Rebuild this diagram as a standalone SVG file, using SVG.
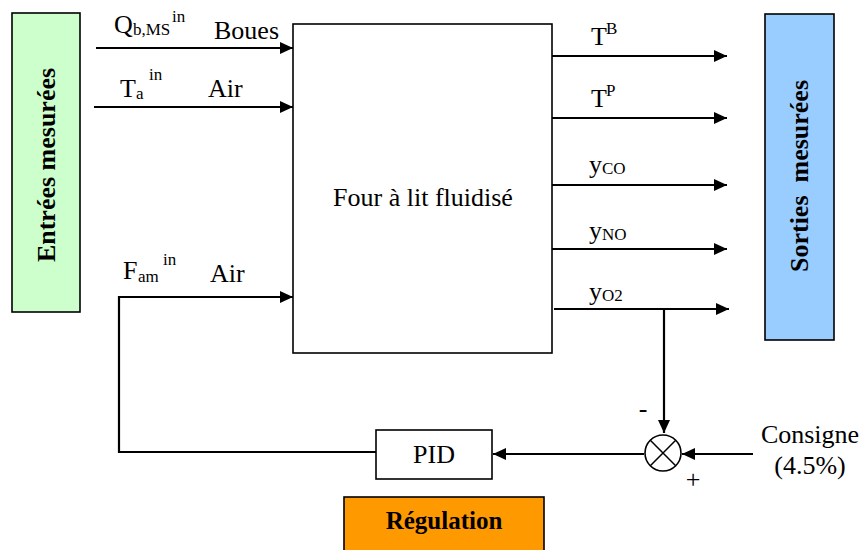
<svg xmlns="http://www.w3.org/2000/svg" width="861" height="550" viewBox="0 0 861 550">
<style>
text{font-family:"Liberation Serif","Times New Roman","DejaVu Serif",serif;fill:#000}
.t{font-size:26px}
.s{font-size:17px}
.b{font-size:26px;font-weight:bold}
.box{stroke:#000;stroke-width:1.6}
.ln{fill:none;stroke:#000;stroke-width:2.2}
</style>
<defs>
<marker id="ah" markerUnits="userSpaceOnUse" markerWidth="13" markerHeight="12" refX="13" refY="6" orient="auto">
<path d="M0,0 L13,6 L0,12 z" fill="#000"/>
</marker>
</defs>
<rect width="861" height="550" fill="#fff"/>
<g font-family="Liberation Serif, Times New Roman, serif">

<g id="entrees">
<rect class="box" x="12" y="13" width="68" height="299" fill="#CCFFCC"/>
<text class="b" transform="translate(55,165) rotate(-90)" text-anchor="middle">Entrées mesurées</text>
</g>

<g id="sorties">
<rect class="box" x="765" y="14" width="69" height="326" fill="#99CCFF"/>
<text class="b" transform="translate(808,176) rotate(-90)" text-anchor="middle" xml:space="preserve">Sorties  mesurées</text>
</g>

<g id="four">
<rect class="box" x="293" y="24" width="259" height="329" fill="#fff"/>
<text class="t" x="423" y="206" text-anchor="middle">Four à lit fluidisé</text>
</g>

<g id="pid">
<rect class="box" x="376" y="430" width="116" height="49" fill="#fff"/>
<text class="t" x="434" y="463" text-anchor="middle">PID</text>
</g>

<g id="sommateur">
<circle class="box" cx="663" cy="453" r="18" fill="#fff"/>
<path d="M650.3,440.3 L675.7,465.7 M675.7,440.3 L650.3,465.7" stroke="#000" stroke-width="1.5"/>
<text class="t" x="643" y="417" text-anchor="middle">-</text>
<text class="t" x="693" y="488" text-anchor="middle">+</text>
</g>

<g id="regulation">
<rect class="box" x="344" y="497" width="200" height="60" fill="#FF9900"/>
<text class="b" x="444" y="529" text-anchor="middle" style="font-size:25px">Régulation</text>
</g>

<g id="consigne">
<text class="t" x="810" y="443" text-anchor="middle">Consigne</text>
<text class="t" x="810" y="474" text-anchor="middle">(4.5%)</text>
</g>

<g id="labels">
<text class="t" x="114" y="33">Q</text><text class="s" x="133" y="35">b,MS</text><text class="s" x="172" y="22">in</text>
<text class="t" x="214" y="39">Boues</text>
<text class="t" x="120" y="97">T</text><text class="s" x="136" y="99">a</text><text class="s" x="149" y="80">in</text>
<text class="t" x="208" y="97">Air</text>
<text class="t" x="123" y="279">F</text><text class="s" x="138" y="282">am</text><text class="s" x="163" y="265">in</text>
<text class="t" x="210" y="282">Air</text>
<text class="t" x="591" y="45">T</text><text class="s" x="606" y="34">B</text>
<text class="t" x="591" y="107">T</text><text class="s" x="606" y="96">P</text>
<text class="t" x="589" y="173">y</text><text class="s" x="602" y="174">CO</text>
<text class="t" x="589" y="239">y</text><text class="s" x="602" y="240">NO</text>
<text class="t" x="589" y="300">y</text><text class="s" x="602" y="301">O2</text>
</g>

<g id="connecteurs">
<line class="ln" x1="96" y1="48" x2="293" y2="48" marker-end="url(#ah)"/>
<line class="ln" x1="94" y1="107" x2="293" y2="107" marker-end="url(#ah)"/>
<polyline class="ln" points="376,452 119,452 119,297 293,297" marker-end="url(#ah)"/>
<line class="ln" x1="552" y1="56" x2="727" y2="56" marker-end="url(#ah)"/>
<line class="ln" x1="552" y1="118" x2="727" y2="118" marker-end="url(#ah)"/>
<line class="ln" x1="552" y1="185" x2="727" y2="185" marker-end="url(#ah)"/>
<line class="ln" x1="552" y1="249" x2="727" y2="249" marker-end="url(#ah)"/>
<line class="ln" x1="554" y1="309" x2="729" y2="309" marker-end="url(#ah)"/>
<line class="ln" x1="664" y1="309" x2="664" y2="433" marker-end="url(#ah)"/>
<line class="ln" x1="753" y1="454" x2="682" y2="454" marker-end="url(#ah)"/>
<line class="ln" x1="644" y1="454" x2="493" y2="454" marker-end="url(#ah)"/>
</g>
</g>
</svg>
